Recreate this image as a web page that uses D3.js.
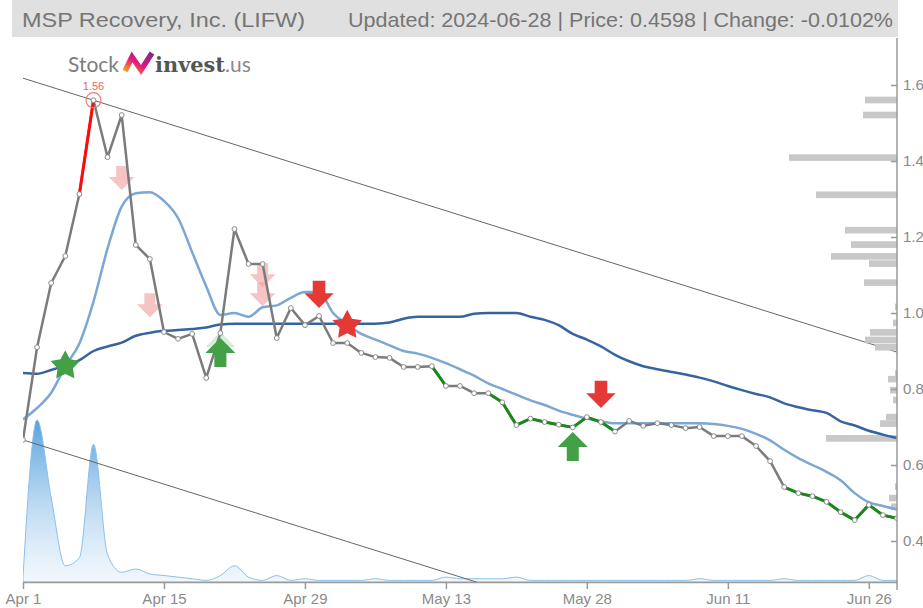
<!DOCTYPE html>
<html>
<head>
<meta charset="utf-8">
<script src="https://cdn.jsdelivr.net/npm/d3@7"></script>
<style>
body { margin: 0; background: #fff; }
svg { display: block; font-family: "Liberation Sans", Arial, sans-serif; }
</style>
</head>
<body>
<svg id="chart" width="923" height="608"></svg>
<script>
var title = 'MSP Recovery, Inc. (LIFW)';
var info = 'Updated: 2024-06-28 | Price: 0.4598 | Change: -0.0102%';

// x axis: trading day index, a label every 10 sessions
var tickIdx = [0, 10, 20, 30, 40, 50, 60];
var tickLabels = ['Apr 1', 'Apr 15', 'Apr 29', 'May 13', 'May 28', 'Jun 11', 'Jun 26'];
var yTicks = [0.4, 0.6, 0.8, 1.0, 1.2, 1.4, 1.6];

// daily close, Apr 1 .. Jun 28
var price = [0.666, 0.91, 1.079, 1.15, 1.313, 1.56, 1.41, 1.521, 1.179, 1.142,
	0.95, 0.932, 0.945, 0.829, 0.947, 1.221, 1.129, 1.129, 0.934, 1.013,
	0.968, 0.992, 0.921, 0.921, 0.895, 0.884, 0.882, 0.858, 0.858, 0.86,
	0.808, 0.808, 0.789, 0.789, 0.765, 0.705, 0.722, 0.713, 0.706, 0.699,
	0.726, 0.713, 0.688, 0.716, 0.703, 0.71, 0.705, 0.697, 0.70, 0.676,
	0.676, 0.676, 0.65, 0.61, 0.542, 0.526, 0.518, 0.503, 0.476, 0.455,
	0.495, 0.468, 0.4598];

// short moving average (light blue)
var maShort = [0.72, 0.75, 0.79, 0.86, 0.92, 1.03, 1.17, 1.28, 1.315, 1.318,
	1.295, 1.25, 1.16, 1.07, 0.995, 1.0, 0.99, 1.015, 1.02, 1.04,
	1.055, 1.055, 1.0, 0.97, 0.945, 0.93, 0.915, 0.90, 0.893, 0.882,
	0.868, 0.852, 0.835, 0.815, 0.80, 0.785, 0.77, 0.758, 0.743, 0.732,
	0.722, 0.715, 0.71, 0.71, 0.71, 0.71, 0.71, 0.71, 0.71, 0.708,
	0.703, 0.695, 0.682, 0.665, 0.64, 0.618, 0.60, 0.582, 0.56, 0.526,
	0.502, 0.492, 0.483];

// long moving average (dark blue)
var maLong = [0.842, 0.84, 0.85, 0.862, 0.876, 0.9, 0.912, 0.922, 0.94, 0.948,
	0.953, 0.955, 0.958, 0.962, 0.97, 0.972, 0.972, 0.972, 0.972, 0.972,
	0.972, 0.972, 0.972, 0.972, 0.972, 0.972, 0.975, 0.985, 0.99, 0.99,
	0.99, 0.99, 0.998, 1.0, 1.0, 1.0, 0.99, 0.982, 0.968, 0.945,
	0.93, 0.912, 0.89, 0.873, 0.86, 0.852, 0.845, 0.838, 0.83, 0.82,
	0.808, 0.797, 0.787, 0.778, 0.762, 0.752, 0.744, 0.737, 0.715, 0.704,
	0.69, 0.68, 0.671];

// relative daily volume
var volume = [3, 100, 52, 10, 15, 85, 17, 6, 8, 5,
	4, 3, 2, 1, 4, 10, 3, 1, 4, 1,
	2, 1, 1, 1, 1, 2, 1, 1, 1, 1,
	3, 2, 2, 2, 2, 3, 1, 1, 1, 1,
	1, 1, 1, 1, 1, 1, 1, 1, 2, 1,
	1, 1, 1, 1, 2, 1, 1, 1, 1, 1,
	4, 1, 1];

// segments (from index i to i+1) drawn in colour
var greenFrom = [29, 33, 34, 35, 36, 37, 38, 39, 40, 41, 54, 55, 56, 57, 58, 59, 60, 61];
var redFrom = [4];
var peakIdx = 5;

// trend channel, value at first and last session
var trendUpper = [1.618, 0.897];
var trendLower = [0.666, -0.055];

// volume by price (right side)
var profPrice = [1.5605, 1.521, 1.409, 1.311, 1.218, 1.18, 1.149, 1.13, 1.08, 1.016,
	0.974, 0.949, 0.929, 0.91, 0.841, 0.826, 0.797, 0.771, 0.726, 0.709,
	0.67, 0.543, 0.513, 0.49];
var profVol = [32, 34, 108, 81, 52, 46, 66, 28, 33, 2,
	4, 27, 32, 22, 2, 9, 7, 4, 11, 17,
	71, 2, 8, 6];

// signals: index and the price level the marker points at
var sellFaded = [[7, 1.324], [9, 0.989], [17, 1.068], [17, 1.018]];
var sellSignals = [[21, 1.013], [41, 0.75]];
var buyFaded = [[14, 0.95]];
var buySignals = [[14, 0.934], [39, 0.687]];
var buyStars = [[3, 0.861]];
var sellStars = [[23, 0.968]];

var svg = d3.select('#chart');
var plotLeft = 23, plotRight = 897, plotTop = 38, plotBottom = 582;

var x = d3.scaleLinear().domain([0, price.length - 1]).range([plotLeft, plotRight]);
var y = d3.scaleLinear().domain([0.4, 1.6]).range([541, 85]);
var yv = d3.scaleLinear().domain([0, d3.max(volume)]).range([plotBottom, 420]);
var xp = d3.scaleLinear().domain([0, d3.max(profVol)]).range([0, 108]);

var defs = svg.append('defs');
defs.append('clipPath').attr('id', 'plotclip')
	.append('rect').attr('x', plotLeft).attr('y', plotTop)
	.attr('width', plotRight - plotLeft).attr('height', plotBottom - plotTop);

var vg = defs.append('linearGradient').attr('id', 'volgrad')
	.attr('gradientUnits', 'userSpaceOnUse')
	.attr('x1', 0).attr('x2', 0).attr('y1', 420).attr('y2', plotBottom);
vg.append('stop').attr('offset', 0).attr('stop-color', '#4d9ddc').attr('stop-opacity', 0.95);
vg.append('stop').attr('offset', 1).attr('stop-color', '#d6e8f8').attr('stop-opacity', 0.35);

var lg = defs.append('linearGradient').attr('id', 'logograd')
	.attr('x1', 0).attr('x2', 1).attr('y1', 1).attr('y2', 0);
lg.append('stop').attr('offset', 0).attr('stop-color', '#f7a21b');
lg.append('stop').attr('offset', 0.45).attr('stop-color', '#e5177e');
lg.append('stop').attr('offset', 1).attr('stop-color', '#7a2a90');

// header
svg.append('rect').attr('x', 12).attr('y', 0).attr('width', 886).attr('height', 37)
	.attr('fill', '#e0e0e0');
svg.append('text').attr('x', 22).attr('y', 27)
	.attr('font-size', 21).attr('fill', '#757575')
	.attr('font-family', '"Liberation Sans Narrow", "Liberation Sans", Arial, sans-serif')
	.attr('textLength', 283).attr('lengthAdjust', 'spacingAndGlyphs')
	.text(title);
svg.append('text').attr('x', 348).attr('y', 27)
	.attr('font-size', 21).attr('fill', '#757575')
	.attr('font-family', '"Liberation Sans Narrow", "Liberation Sans", Arial, sans-serif')
	.attr('textLength', 545).attr('lengthAdjust', 'spacingAndGlyphs')
	.text(info);

// logo
var logo = svg.append('g');
logo.append('text').attr('x', 68).attr('y', 72).attr('font-size', 21)
	.attr('fill', '#7d7d7d').attr('font-family', 'Lato, "Open Sans", sans-serif')
	.text('Stock');
logo.append('path')
	.attr('d', 'M125,71 L132,57 L141,70 L152,53')
	.attr('fill', 'none').attr('stroke', 'url(#logograd)')
	.attr('stroke-width', 5.5).attr('stroke-linejoin', 'miter');
logo.append('text').attr('x', 155).attr('y', 72).attr('font-size', 21)
	.attr('font-weight', 'bold').attr('fill', '#555')
	.attr('font-family', '"DejaVu Serif", serif').attr('textLength', 70)
	.attr('lengthAdjust', 'spacingAndGlyphs')
	.text('invest');
logo.append('text').attr('x', 225).attr('y', 72).attr('font-size', 21)
	.attr('fill', '#8a8a8a').attr('font-family', 'Lato, "Open Sans", sans-serif')
	.text('.us');

var plot = svg.append('g').attr('clip-path', 'url(#plotclip)');

// volume area
var volArea = d3.area()
	.x(function(d, i){ return x(i); })
	.y0(plotBottom)
	.y1(function(d){ return yv(d); })
	.curve(d3.curveMonotoneX);
plot.append('path').datum(volume)
	.attr('d', volArea)
	.attr('fill', 'url(#volgrad)')
	.attr('stroke', '#8cc0ea').attr('stroke-width', 1);

// trend channel
[trendUpper, trendLower].forEach(function(t){
	plot.append('line')
		.attr('x1', x(0)).attr('y1', y(t[0]))
		.attr('x2', x(price.length - 1)).attr('y2', y(t[1]))
		.attr('stroke', '#666').attr('stroke-width', 1);
});

// volume by price
var pH = y(0) - y(0.0175);
plot.selectAll('rect.prof').data(profPrice).enter().append('rect')
	.attr('class', 'prof')
	.attr('x', function(d, i){ return plotRight - xp(profVol[i]); })
	.attr('y', function(d){ return y(d) - pH / 2; })
	.attr('width', function(d, i){ return xp(profVol[i]); })
	.attr('height', pH)
	.attr('fill', '#c8c8c8');

// moving averages
var maLine = d3.line()
	.x(function(d, i){ return x(i); })
	.y(function(d){ return y(d); })
	.curve(d3.curveMonotoneX);
plot.append('path').datum(maLong).attr('d', maLine)
	.attr('fill', 'none').attr('stroke', '#36659e').attr('stroke-width', 2.5);
plot.append('path').datum(maShort).attr('d', maLine)
	.attr('fill', 'none').attr('stroke', '#7ba7d2').attr('stroke-width', 2.5);

// markers
function downArrow(s){
	return 'M0,0 L' + (-14 * s) + ',' + (-14 * s) + ' L' + (-6 * s) + ',' + (-14 * s) +
		' L' + (-6 * s) + ',' + (-26 * s) + ' L' + (6 * s) + ',' + (-26 * s) +
		' L' + (6 * s) + ',' + (-14 * s) + ' L' + (14 * s) + ',' + (-14 * s) + ' Z';
}
function upArrow(s){
	return 'M0,0 L' + (-15 * s) + ',' + (15 * s) + ' L' + (-6 * s) + ',' + (15 * s) +
		' L' + (-6 * s) + ',' + (29 * s) + ' L' + (6 * s) + ',' + (29 * s) +
		' L' + (6 * s) + ',' + (15 * s) + ' L' + (15 * s) + ',' + (15 * s) + ' Z';
}
function starPath(r){
	var pts = [];
	for (var k = 0; k < 10; k++){
		var rad = (k % 2 == 0) ? r : r * 0.52;
		var a = -Math.PI / 2 + k * Math.PI / 5;
		pts.push((rad * Math.cos(a)).toFixed(2) + ',' + (rad * Math.sin(a)).toFixed(2));
	}
	return 'M' + pts.join('L') + 'Z';
}

sellFaded.forEach(function(s){
	plot.append('path').attr('d', downArrow(0.92))
		.attr('transform', 'translate(' + x(s[0]) + ',' + y(s[1]) + ')')
		.attr('fill', '#f2a5a5').attr('opacity', 0.65);
});
buyFaded.forEach(function(s){
	plot.append('path').attr('d', upArrow(1))
		.attr('transform', 'translate(' + x(s[0]) + ',' + y(s[1]) + ')')
		.attr('fill', '#7cc47f').attr('opacity', 0.3);
});

// price line
var pLine = d3.line()
	.x(function(d, i){ return x(i); })
	.y(function(d){ return y(d); });
plot.append('path').datum(price).attr('d', pLine)
	.attr('fill', 'none').attr('stroke', '#7b7b7b').attr('stroke-width', 2.5)
	.attr('stroke-linejoin', 'round');

function segments(list, color){
	list.forEach(function(i){
		plot.append('line')
			.attr('x1', x(i)).attr('y1', y(price[i]))
			.attr('x2', x(i + 1)).attr('y2', y(price[i + 1]))
			.attr('stroke', color).attr('stroke-width', 3)
			.attr('stroke-linecap', 'round');
	});
}
segments(greenFrom, '#188a18');
segments(redFrom, '#ff0a0a');

plot.selectAll('circle.pt').data(price).enter().append('circle')
	.attr('class', 'pt')
	.attr('cx', function(d, i){ return x(i); })
	.attr('cy', function(d){ return y(d); })
	.attr('r', 2.4)
	.attr('fill', '#fff').attr('stroke', '#8a8a8a').attr('stroke-width', 1);

// peak
plot.append('circle').attr('cx', x(peakIdx)).attr('cy', y(price[peakIdx])).attr('r', 7.5)
	.attr('fill', 'none').attr('stroke', '#f07a7a').attr('stroke-width', 1.2);
plot.append('text').attr('x', x(peakIdx)).attr('y', y(price[peakIdx]) - 10)
	.attr('text-anchor', 'middle').attr('font-size', 11).attr('fill', '#f06060')
	.text(price[peakIdx].toFixed(2));

sellSignals.forEach(function(s){
	plot.append('path').attr('d', downArrow(1.05))
		.attr('transform', 'translate(' + x(s[0]) + ',' + y(s[1]) + ')')
		.attr('fill', '#e53935');
});
buySignals.forEach(function(s){
	plot.append('path').attr('d', upArrow(1))
		.attr('transform', 'translate(' + x(s[0]) + ',' + y(s[1]) + ')')
		.attr('fill', '#43a047');
});
buyStars.forEach(function(s){
	plot.append('path').attr('d', starPath(15.5))
		.attr('transform', 'translate(' + x(s[0]) + ',' + y(s[1]) + ')')
		.attr('fill', '#43a047');
});
sellStars.forEach(function(s){
	plot.append('path').attr('d', starPath(15.5))
		.attr('transform', 'translate(' + x(s[0]) + ',' + y(s[1]) + ')')
		.attr('fill', '#e53935');
});

// axes
var xAxis = d3.axisBottom(x).tickValues(tickIdx)
	.tickFormat(function(d, i){ return tickLabels[i]; })
	.tickSize(7).tickSizeOuter(0).tickPadding(4);
var gx = svg.append('g').attr('transform', 'translate(0,' + plotBottom + ')').call(xAxis);

var yAxis = d3.axisRight(y).tickValues(yTicks)
	.tickFormat(d3.format('.1f'))
	.tickSize(-6).tickSizeOuter(0).tickPadding(6);
var gy = svg.append('g').attr('transform', 'translate(' + plotRight + ',0)').call(yAxis);
gy.select('.domain').attr('d', 'M0,' + plotTop + 'V' + (plotBottom + 8));

[gx, gy].forEach(function(g){
	g.selectAll('.domain, .tick line').attr('stroke', '#9a9a9a').attr('stroke-width', 1.5);
	g.selectAll('text').attr('fill', '#8a8a8a').attr('font-size', 15)
		.attr('font-family', '"Liberation Sans", Arial, sans-serif');
});
</script>
</body>
</html>
